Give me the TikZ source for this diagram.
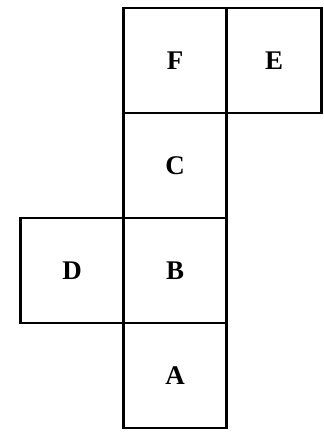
\documentclass[tikz,border=0pt]{standalone}
\usepackage{fontspec}
\setmainfont{Liberation Serif}
\usetikzlibrary{positioning}
\tikzset{
  face/.style={draw,line width=2pt,minimum width=3.09cm,minimum height=3.15cm,
    outer sep=0pt,inner sep=0pt,font=\fontsize{23}{28}\selectfont\bfseries}
}
\begin{document}
\begin{tikzpicture}[node distance=0cm]
  \useasboundingbox (0,0) rectangle (9.69,-13.08);
  \node[face] (F) at (5.25,-1.815) {F};
  \node[face,right=of F,minimum width=2.85cm] (E) {E};
  \node[face,below=of F] (C) {C};
  \node[face,below=of C] (B) {B};
  \node[face,left=of B] (D) {D};
  \node[face,below=of B] (A) {A};
\end{tikzpicture}
\end{document}
